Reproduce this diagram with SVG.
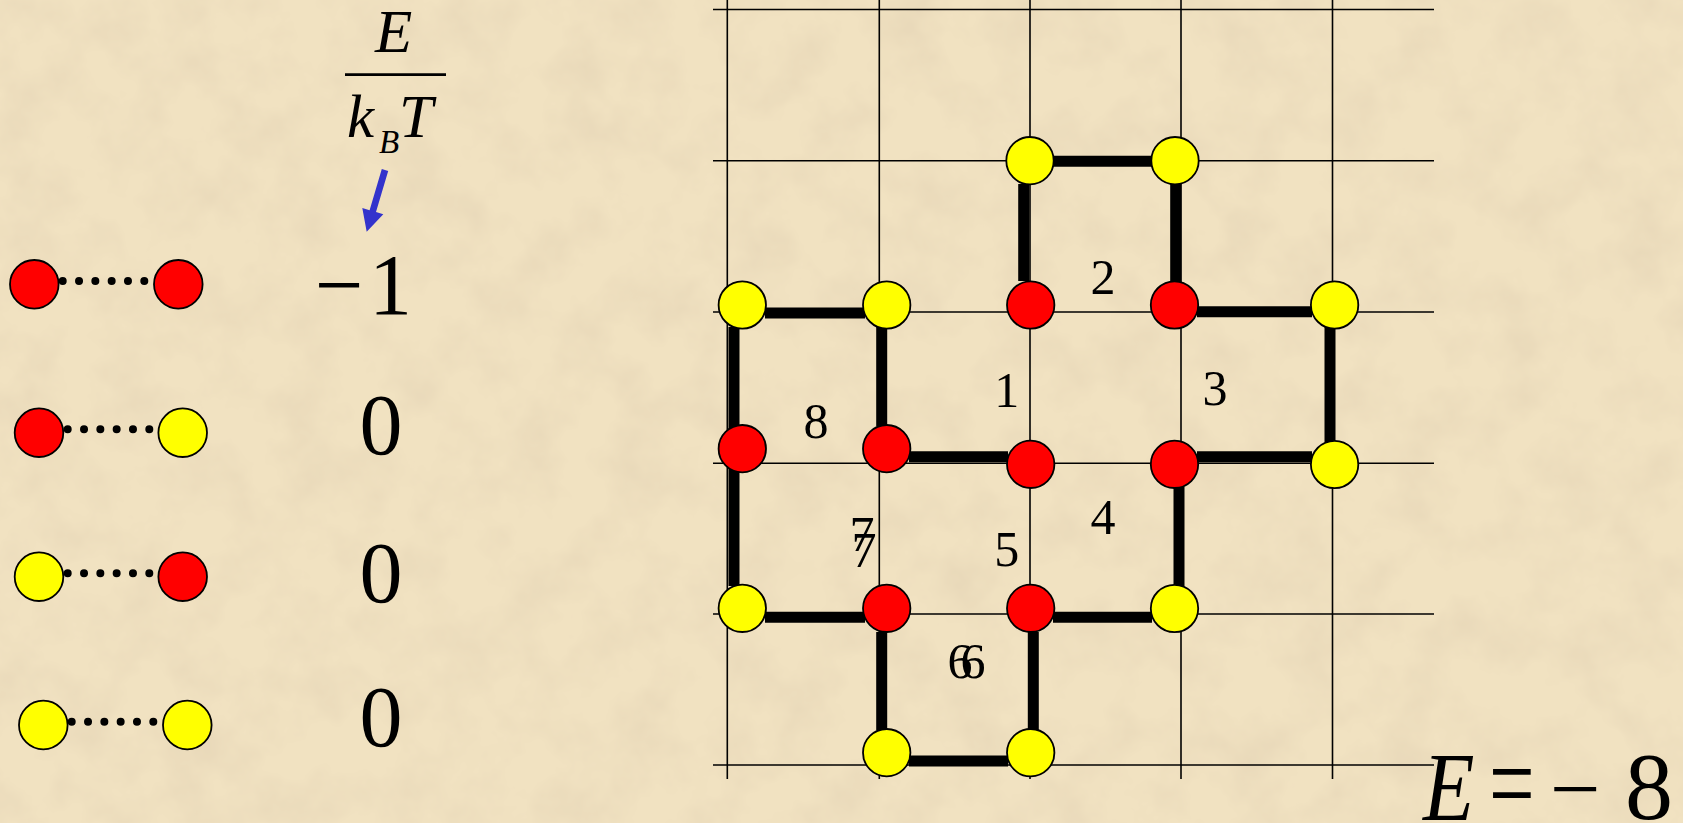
<svg xmlns="http://www.w3.org/2000/svg" width="1683" height="823" viewBox="0 0 1683 823">
<defs>
<filter id="paper" x="0" y="0" width="100%" height="100%" filterUnits="userSpaceOnUse">
<feTurbulence type="fractalNoise" baseFrequency="0.018" numOctaves="4" seed="7" result="n"/>
<feColorMatrix in="n" type="matrix" values="0 0 0 0 0.80  0 0 0 0 0.68  0 0 0 0 0.48  1.6 0 0 0 -0.62"/>
</filter>
<style>
.grid line{stroke:#000;stroke-width:1.6}
.bond{stroke:#000;stroke-width:11;fill:none;stroke-linecap:butt}
.red{fill:#FF0000;stroke:#000;stroke-width:1.8}
.yel{fill:#FFFF00;stroke:#000;stroke-width:1.8}
.dots{stroke:#000;stroke-width:8;stroke-linecap:round;stroke-dasharray:0 16.32}
.lbl{font-family:"Liberation Serif","Times New Roman",serif;font-size:50px;fill:#000;text-anchor:middle}
.val{font-family:"Liberation Serif","Times New Roman",serif;font-size:86px;fill:#000}
.it{font-family:"Liberation Serif","Times New Roman",serif;font-style:italic;fill:#000}
</style>
</defs>
<rect width="1683" height="823" fill="#F1E2C1"/>
<rect width="1683" height="823" filter="url(#paper)"/>

<g id="grid" class="grid">
<line x1="713" y1="9.5" x2="1434" y2="9.5"/>
<line x1="713" y1="160.7" x2="1434" y2="160.7"/>
<line x1="713" y1="312" x2="1434" y2="312"/>
<line x1="713" y1="463.3" x2="1434" y2="463.3"/>
<line x1="713" y1="614" x2="1434" y2="614"/>
<line x1="713" y1="765" x2="1434" y2="765"/>
<line x1="727.3" y1="0" x2="727.3" y2="779"/>
<line x1="879.3" y1="0" x2="879.3" y2="779"/>
<line x1="1030" y1="0" x2="1030" y2="779"/>
<line x1="1181" y1="0" x2="1181" y2="779"/>
<line x1="1332.5" y1="0" x2="1332.5" y2="779"/>
</g>

<g id="connectors">
<path class="bond" d="M1052 161.3H1153"/>
<path class="bond" d="M1023.7 184V281"/>
<path class="bond" d="M1175.7 183V283"/>
<path class="bond" d="M765 313H865"/>
<path class="bond" d="M734 327V586"/>
<path class="bond" d="M881.7 327V426"/>
<path class="bond" d="M909 456.7H1008"/>
<path class="bond" d="M1197 311.8H1312"/>
<path class="bond" d="M1330 327V442"/>
<path class="bond" d="M1197 456.7H1312"/>
<path class="bond" d="M1179 487V586"/>
<path class="bond" d="M765 617.3H865"/>
<path class="bond" d="M1053 617.3H1152"/>
<path class="bond" d="M881.7 632V730"/>
<path class="bond" d="M1033.3 632V730"/>
<path class="bond" d="M909 761H1008"/>
</g>

<g id="n1"><circle class="yel" cx="1030" cy="160.7" r="23.7"/></g>
<g id="n2"><circle class="yel" cx="1175" cy="160.7" r="23.7"/></g>
<g id="n3"><circle class="yel" cx="742.3" cy="305" r="23.7"/></g>
<g id="n4"><circle class="yel" cx="886.7" cy="305" r="23.7"/></g>
<g id="n5"><circle class="red" cx="1030.7" cy="305" r="23.7"/></g>
<g id="n6"><circle class="red" cx="1174.5" cy="305" r="23.7"/></g>
<g id="n7"><circle class="yel" cx="1334.6" cy="305" r="23.7"/></g>
<g id="n8"><circle class="red" cx="742.3" cy="448.7" r="23.7"/></g>
<g id="n9"><circle class="red" cx="886.7" cy="448.7" r="23.7"/></g>
<g id="n10"><circle class="red" cx="1030.7" cy="464.3" r="23.7"/></g>
<g id="n11"><circle class="red" cx="1174.5" cy="464.3" r="23.7"/></g>
<g id="n12"><circle class="yel" cx="1334.6" cy="464.5" r="23.7"/></g>
<g id="n13"><circle class="yel" cx="742.3" cy="608.3" r="23.7"/></g>
<g id="n14"><circle class="red" cx="886.7" cy="608.3" r="23.7"/></g>
<g id="n15"><circle class="red" cx="1030.7" cy="608.3" r="23.7"/></g>
<g id="n16"><circle class="yel" cx="1174.5" cy="608.5" r="23.7"/></g>
<g id="n17"><circle class="yel" cx="886.7" cy="752.7" r="23.7"/></g>
<g id="n18"><circle class="yel" cx="1030.7" cy="752.7" r="23.7"/></g>

<g id="square-labels" class="lbl">
<text x="1006.7" y="406.7">1</text>
<text x="1103" y="294">2</text>
<text x="1215" y="405">3</text>
<text x="1103" y="534">4</text>
<text x="1006.7" y="566">5</text>
<text x="960" y="678">6</text>
<text x="973" y="678">6</text>
<text x="862" y="551">7</text>
<text x="864" y="567">7</text>
<text x="816" y="438.3">8</text>
</g>

<g id="legend-rr">
<line class="dots" x1="62.7" y1="281" x2="144.4" y2="281"/>
<circle class="red" cx="34.3" cy="284.3" r="24.3"/>
<circle class="red" cx="178.3" cy="284.3" r="24.3"/>
</g>
<g id="legend-ry">
<line class="dots" x1="67.7" y1="429.3" x2="149.4" y2="429.3"/>
<circle class="red" cx="39" cy="432.7" r="24.3"/>
<circle class="yel" cx="182.7" cy="432.7" r="24.3"/>
</g>
<g id="legend-yr">
<line class="dots" x1="67.7" y1="573.3" x2="149.4" y2="573.3"/>
<circle class="yel" cx="39" cy="576.7" r="24.3"/>
<circle class="red" cx="182.7" cy="576.7" r="24.3"/>
</g>
<g id="legend-yy">
<line class="dots" x1="71.7" y1="721.7" x2="153.4" y2="721.7"/>
<circle class="yel" cx="43.3" cy="725" r="24.3"/>
<circle class="yel" cx="187.3" cy="725" r="24.3"/>
</g>

<g id="values" class="val">
<text x="315" y="314">−</text>
<text x="369" y="314">1</text>
<text x="381" y="454" text-anchor="middle">0</text>
<text x="381" y="601.5" text-anchor="middle">0</text>
<text x="381" y="746" text-anchor="middle">0</text>
</g>

<g id="header">
<text class="it" x="375" y="51.7" font-size="61">E</text>
<line x1="345" y1="74.7" x2="446" y2="74.7" stroke="#000" stroke-width="2.7"/>
<text class="it" x="347" y="136.7" font-size="61">k</text>
<text class="it" x="379" y="152.7" font-size="33">B</text>
<text class="it" x="399" y="137.3" font-size="61">T</text>
<path d="M388.2 170.9L381.8 169.1L369.6 210.3L362.3 208.1L366.7 231.7L383.3 214.3L376 212.1Z" fill="#3333CC"/>
</g>

<g id="total-energy">
<text class="it" transform="translate(1423 820) scale(0.86 1)" font-size="98">E</text>
<text class="val" transform="translate(1489 822) scale(0.9 1.3)" style="font-size:90px">=</text>
<text class="val" x="1550" y="819" style="font-size:90px">−</text>
<text class="val" x="1625" y="819" style="font-size:96px">8</text>
</g>
</svg>
